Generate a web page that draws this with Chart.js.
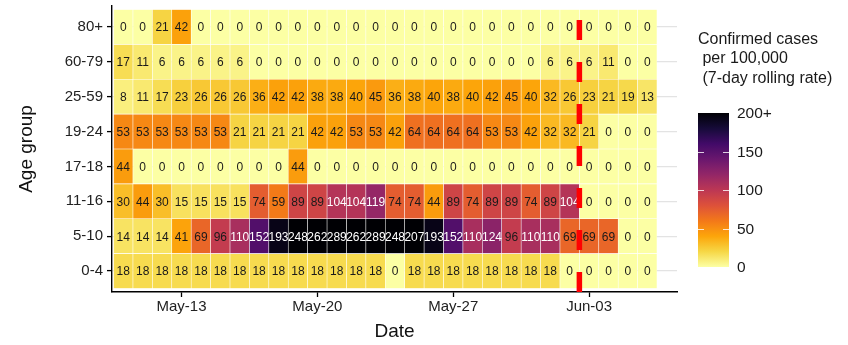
<!DOCTYPE html>
<html>
<head>
<meta charset="utf-8">
<script src="https://cdn.jsdelivr.net/npm/chart.js@4.4.1/dist/chart.umd.min.js"></script>
<style>
  html, body { margin: 0; padding: 0; background: #fff; }
  #wrap { width: 848px; height: 345px; }
</style>
</head>
<body>
<div id="wrap"><canvas id="heatmap" width="848" height="345"></canvas></div>
<script>
// rows bottom to top
const ageGroups = ['0-4', '5-10', '11-16', '17-18', '19-24', '25-59', '60-79', '80+'];
const dates = ['May-10', 'May-11', 'May-12', 'May-13', 'May-14', 'May-15', 'May-16', 'May-17',
    'May-18', 'May-19', 'May-20', 'May-21', 'May-22', 'May-23', 'May-24', 'May-25', 'May-26',
    'May-27', 'May-28', 'May-29', 'May-30', 'May-31', 'Jun-01', 'Jun-02', 'Jun-03', 'Jun-04',
    'Jun-05', 'Jun-06'];
const dateTicks = ['May-13', 'May-20', 'May-27', 'Jun-03'];
const cutoffDate = 'Jun-03';

const rate0to4   = [18, 18, 18, 18, 18, 18, 18, 18, 18, 18, 18, 18, 18, 18, 0, 18, 18, 18, 18, 18, 18, 18, 18, 0, 0, 0, 0, 0];
const rate5to10  = [14, 14, 14, 41, 69, 96, 110, 152, 193, 248, 262, 289, 262, 289, 248, 207, 193, 152, 110, 124, 96, 110, 110, 69, 69, 69, 0, 0];
const rate11to16 = [30, 44, 30, 15, 15, 15, 15, 74, 59, 89, 89, 104, 104, 119, 74, 74, 44, 89, 74, 89, 89, 74, 89, 104, 0, 0, 0, 0];
const rate17to18 = [44, 0, 0, 0, 0, 0, 0, 0, 0, 44, 0, 0, 0, 0, 0, 0, 0, 0, 0, 0, 0, 0, 0, 0, 0, 0, 0, 0];
const rate19to24 = [53, 53, 53, 53, 53, 53, 21, 21, 21, 21, 42, 42, 53, 53, 42, 64, 64, 64, 64, 53, 53, 42, 32, 32, 21, 0, 0, 0];
const rate25to59 = [8, 11, 17, 23, 26, 26, 26, 36, 42, 42, 38, 38, 40, 45, 36, 38, 40, 38, 40, 42, 45, 40, 32, 26, 23, 21, 19, 13];
const rate60to79 = [17, 11, 6, 6, 6, 6, 6, 0, 0, 0, 0, 0, 0, 0, 0, 0, 0, 0, 0, 0, 0, 0, 6, 6, 6, 11, 0, 0];
const rate80plus = [0, 0, 21, 42, 0, 0, 0, 0, 0, 0, 0, 0, 0, 0, 0, 0, 0, 0, 0, 0, 0, 0, 0, 0, 0, 0, 0, 0];
const rates = [rate0to4, rate5to10, rate11to16, rate17to18, rate19to24, rate25to59, rate60to79, rate80plus];

const legendTicks = [0, 50, 100, 150, 200];
const legendLabels = ['0', '50', '100', '150', '200+'];
const rateCap = 200;

const FONT = "'Liberation Sans', Arial, sans-serif";

// inferno, reversed later
const inferno = ['#000004', '#160b39', '#420a68', '#6a176e', '#932667', '#bc3754',
    '#dd513a', '#f37819', '#fca50a', '#f6d746', '#fcffa4'];

function hexRgb(h) {
    return [parseInt(h.slice(1, 3), 16), parseInt(h.slice(3, 5), 16), parseInt(h.slice(5, 7), 16)];
}

function infernoAt(t) {
    t = Math.max(0, Math.min(1, t));
    const p = t * (inferno.length - 1);
    const i = Math.min(Math.floor(p), inferno.length - 2);
    const f = p - i;
    const a = hexRgb(inferno[i]), b = hexRgb(inferno[i + 1]);
    const c = a.map((v, k) => Math.round(v + (b[k] - v) * f));
    return 'rgb(' + c.join(',') + ')';
}

function fillFor(v) {
    return infernoAt(1 - Math.min(v, rateCap) / rateCap);
}

const datasets = rates.map((row, r) => ({
    label: ageGroups[r],
    data: row.map((v, i) => ({ x: i, y: [r - 0.5, r + 0.5] })),
    backgroundColor: row.map(fillFor),
    borderColor: 'rgba(255,255,255,0.55)',
    borderWidth: 0.6,
    borderSkipped: false,
    grouped: false,
    barPercentage: 1,
    categoryPercentage: 1
}));

const cellText = {
    id: 'cellText',
    afterDatasetsDraw(chart) {
        const { ctx, scales: { x, y } } = chart;
        ctx.save();
        ctx.font = '12px ' + FONT;
        ctx.textAlign = 'center';
        ctx.textBaseline = 'middle';
        rates.forEach((row, r) => {
            row.forEach((v, i) => {
                ctx.fillStyle = v > 100 ? '#ffffff' : '#1a1a1a';
                ctx.fillText(String(v), x.getPixelForValue(i), y.getPixelForValue(r) + 1);
            });
        });
        // cut-off marker
        const cx = x.getPixelForValue(dates.indexOf(cutoffDate) - 0.5);
        const area = chart.chartArea;
        ctx.strokeStyle = '#ff0000';
        ctx.lineWidth = 5.5;
        ctx.setLineDash([20, 22]);
        ctx.beginPath();
        ctx.moveTo(cx, area.bottom);
        ctx.lineTo(cx, area.top);
        ctx.stroke();
        ctx.restore();
    }
};

const colourBar = {
    id: 'colourBar',
    afterDraw(chart) {
        const ctx = chart.ctx;
        const left = 698, width = 31, top = 113, bottom = 267;
        const yOf = v => bottom - (v / rateCap) * (bottom - top);
        ctx.save();
        ctx.fillStyle = '#1a1a1a';
        ctx.font = '16px ' + FONT;
        ctx.textAlign = 'left';
        ctx.textBaseline = 'middle';
        ctx.fillText('Confirmed cases', 698, 40);
        ctx.fillText(' per 100,000', 698, 59);
        ctx.fillText(' (7-day rolling rate)', 698, 79);

        const grad = ctx.createLinearGradient(0, bottom, 0, top);
        for (let k = 0; k <= 20; k++) {
            grad.addColorStop(k / 20, fillFor(rateCap * k / 20));
        }
        ctx.fillStyle = grad;
        ctx.fillRect(left, top, width, bottom - top);

        ctx.strokeStyle = 'rgba(255,255,255,0.8)';
        ctx.lineWidth = 1;
        legendTicks.forEach(v => {
            if (v === 0 || v === rateCap) return;
            const ty = Math.round(yOf(v)) + 0.5;
            ctx.beginPath();
            ctx.moveTo(left, ty); ctx.lineTo(left + 6, ty);
            ctx.moveTo(left + width - 6, ty); ctx.lineTo(left + width, ty);
            ctx.stroke();
        });

        ctx.fillStyle = '#1a1a1a';
        ctx.font = '15.5px ' + FONT;
        legendTicks.forEach((v, k) => {
            ctx.fillText(legendLabels[k], 737, yOf(v) + 1);
        });
        ctx.restore();
    }
};

document.addEventListener('DOMContentLoaded', function() {
    new Chart(document.getElementById('heatmap'), {
        type: 'bar',
        data: { datasets: datasets },
        options: {
            responsive: false,
            animation: false,
            layout: { padding: { left: 0, top: 6, right: 171, bottom: 0 } },
            plugins: { legend: { display: false }, tooltip: { enabled: false } },
            scales: {
                x: {
                    type: 'linear',
                    offset: false,
                    min: -0.58,
                    max: 28.53,
                    afterBuildTicks: s => { s.ticks = dateTicks.map(t => ({ value: dates.indexOf(t) })); },
                    afterFit: s => { s.height = 53; s.paddingLeft = 0; s.paddingRight = 0; },
                    ticks: {
                        callback: v => dates[v],
                        font: { size: 15, family: FONT },
                        color: '#222',
                        padding: 1,
                        maxRotation: 0,
                        autoSkip: false
                    },
                    grid: { offset: false, drawOnChartArea: false, tickLength: 5, tickColor: '#000', tickWidth: 1.3 },
                    border: { color: '#000', width: 1.4 },
                    title: {
                        display: true,
                        text: 'Date',
                        font: { size: 19, family: FONT },
                        color: '#111',
                        padding: { top: 0, bottom: 2 }
                    }
                },
                y: {
                    type: 'linear',
                    min: -0.6,
                    max: 7.6,
                    afterBuildTicks: s => { s.ticks = ageGroups.map((g, i) => ({ value: i })); },
                    afterFit: s => { s.width = 112; s.paddingTop = 0; s.paddingBottom = 0; },
                    ticks: {
                        callback: v => ageGroups[v],
                        font: { size: 15, family: FONT },
                        color: '#222',
                        padding: 4
                    },
                    grid: { color: '#e3e3e3', lineWidth: 1.2, tickLength: 5, tickColor: '#000', tickWidth: 1.3 },
                    border: { color: '#000', width: 1.4 },
                    title: {
                        display: true,
                        text: 'Age group',
                        font: { size: 19, family: FONT },
                        color: '#111',
                        padding: { top: 15, bottom: 0 }
                    }
                }
            }
        },
        plugins: [cellText, colourBar]
    });
});
</script>
</body>
</html>
